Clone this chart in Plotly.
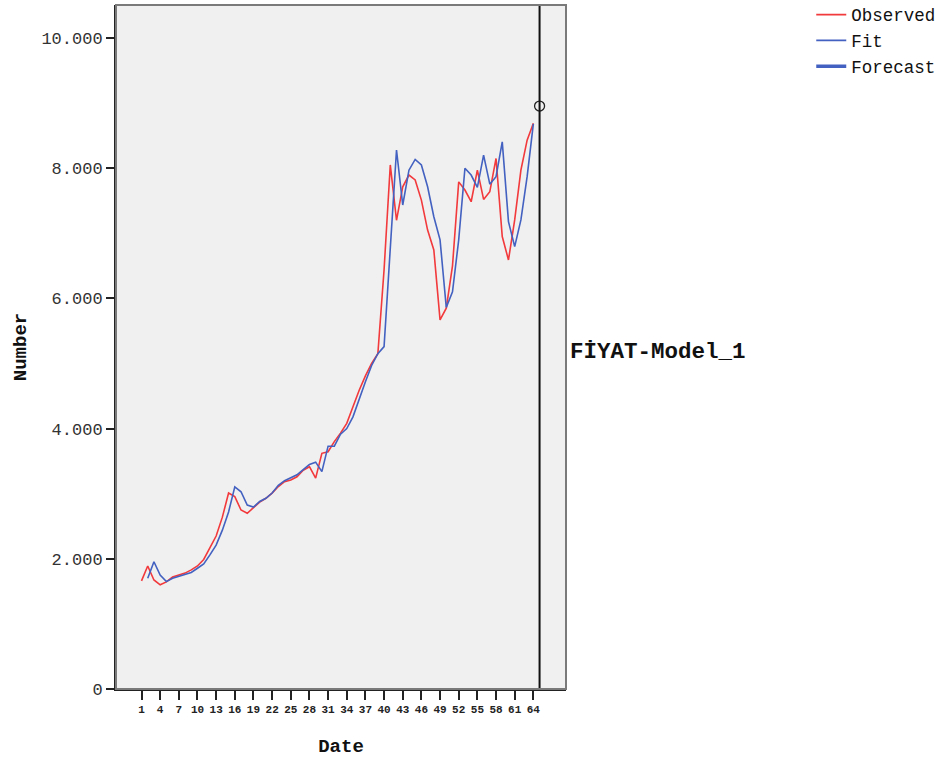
import plotly.graph_objects as go

# ---- data ----
periods = list(range(1, 65))
observed = [1660, 1890, 1675, 1600, 1645, 1720, 1750, 1780, 1830, 1890,
            1990, 2165, 2350, 2640, 3010, 2955, 2750, 2700, 2780, 2870,
            2930, 3010, 3110, 3185, 3210, 3260, 3360, 3415, 3240, 3620,
            3645, 3800, 3930, 4080, 4335, 4590, 4810, 5000, 5150, 6440,
            8050, 7200, 7715, 7895, 7820, 7510, 7050, 6745, 5670, 5850,
            6500, 7790, 7665, 7485, 7970, 7520, 7640, 8150, 6950, 6590,
            7205, 7970, 8430, 8690]
fit_periods = list(range(2, 65))
fit = [1700, 1955, 1750, 1650, 1700, 1730, 1760, 1790, 1855, 1920,
       2060, 2210, 2440, 2720, 3105, 3030, 2825, 2795, 2880, 2930,
       3010, 3130, 3200, 3240, 3290, 3370, 3450, 3485, 3340, 3730,
       3730, 3915, 4000, 4180, 4465, 4720, 4970, 5150, 5260, 6700,
       8280, 7435, 7970, 8135, 8050, 7715, 7255, 6900, 5860, 6100,
       6900, 8000, 7895, 7705, 8200, 7755, 7870, 8405, 7180, 6795,
       7205, 7870, 8680]
forecast_period = [65]
forecast = [8955]
xticks = list(range(1, 65, 3))
yticks = [0, 2000, 4000, 6000, 8000, 10000]
model_label = "FİYAT-Model_1"

RED = "#f2393c"
BLUE = "#4361c0"
FONT = "Liberation Mono"

fig = go.Figure()
fig.add_trace(go.Scatter(x=periods, y=observed, mode="lines", name="Observed", legendgroup="a",
                         line=dict(color=RED, width=1.6)))
fig.add_trace(go.Scatter(x=fit_periods, y=fit, mode="lines", name="Fit", legendgroup="b",
                         line=dict(color=BLUE, width=1.6)))
fig.add_trace(go.Scatter(x=forecast_period, y=forecast, mode="lines", name="Forecast", legendgroup="c",
                         line=dict(color=BLUE, width=3.5)))
fig.add_trace(go.Scatter(x=forecast_period, y=forecast, mode="markers", showlegend=False,
                         marker=dict(symbol="circle-open", size=10, color="#222222",
                                     line=dict(width=1.3, color="#222222"))))

# forecast start line
fig.add_shape(type="line", xref="x", yref="paper", x0=forecast_period[0], x1=forecast_period[0],
              y0=0, y1=1, line=dict(color="#111111", width=2))
# frame (right/top)
fig.add_shape(type="rect", xref="paper", yref="paper", x0=0, x1=1, y0=0, y1=1,
              line=dict(color="#7a7a7a", width=2), layer="above")

fig.add_annotation(text=model_label, xref="paper", yref="y", x=1.0, y=5170,
                   xanchor="left", yanchor="middle", xshift=2, showarrow=False,
                   font=dict(family=FONT, size=22.5, color="#111111", weight="bold"))

fig.update_layout(
    width=943, height=760,
    margin=dict(l=116, r=377, t=5, b=71, autoexpand=False),
    paper_bgcolor="white", plot_bgcolor="#f0f0f0",
    separators=",.",
    showlegend=True,
    legend=dict(x=1.545, xanchor="left", y=1.012, yanchor="top", traceorder="grouped",
                bgcolor="rgba(0,0,0,0)", font=dict(family=FONT, size=17.5, color="#111111"),
                tracegroupgap=0, itemwidth=30),
    font=dict(family=FONT, color="#222222"),
)
fig.update_xaxes(range=[-3.1, 69.25], tickvals=xticks, ticktext=[str(v) for v in xticks],
                 ticks="outside", ticklen=9, tickwidth=1.5, tickcolor="#222222", automargin=False,
                 showgrid=False, zeroline=False, showline=True, linecolor="#222222", linewidth=2,
                 tickfont=dict(family=FONT, size=11, color="#222222", weight="bold"),
                 title=dict(text="Date", font=dict(family=FONT, size=19, color="#111111", weight="bold"),
                            standoff=23))
fig.update_yaxes(range=[0, 10507], tickvals=yticks, tickformat=",d",
                 ticks="outside", ticklen=8, tickwidth=1.5, tickcolor="#222222", automargin=False,
                 showgrid=False, zeroline=False, showline=True, linecolor="#222222", linewidth=2,
                 tickfont=dict(family=FONT, size=17, color="#333333"),
                 title=dict(text="Number", font=dict(family=FONT, size=19, color="#111111", weight="bold"),
                            standoff=10))

fig.write_html("out.html", config={"displayModeBar": False},
               post_script="document.body.style.margin='0';")
